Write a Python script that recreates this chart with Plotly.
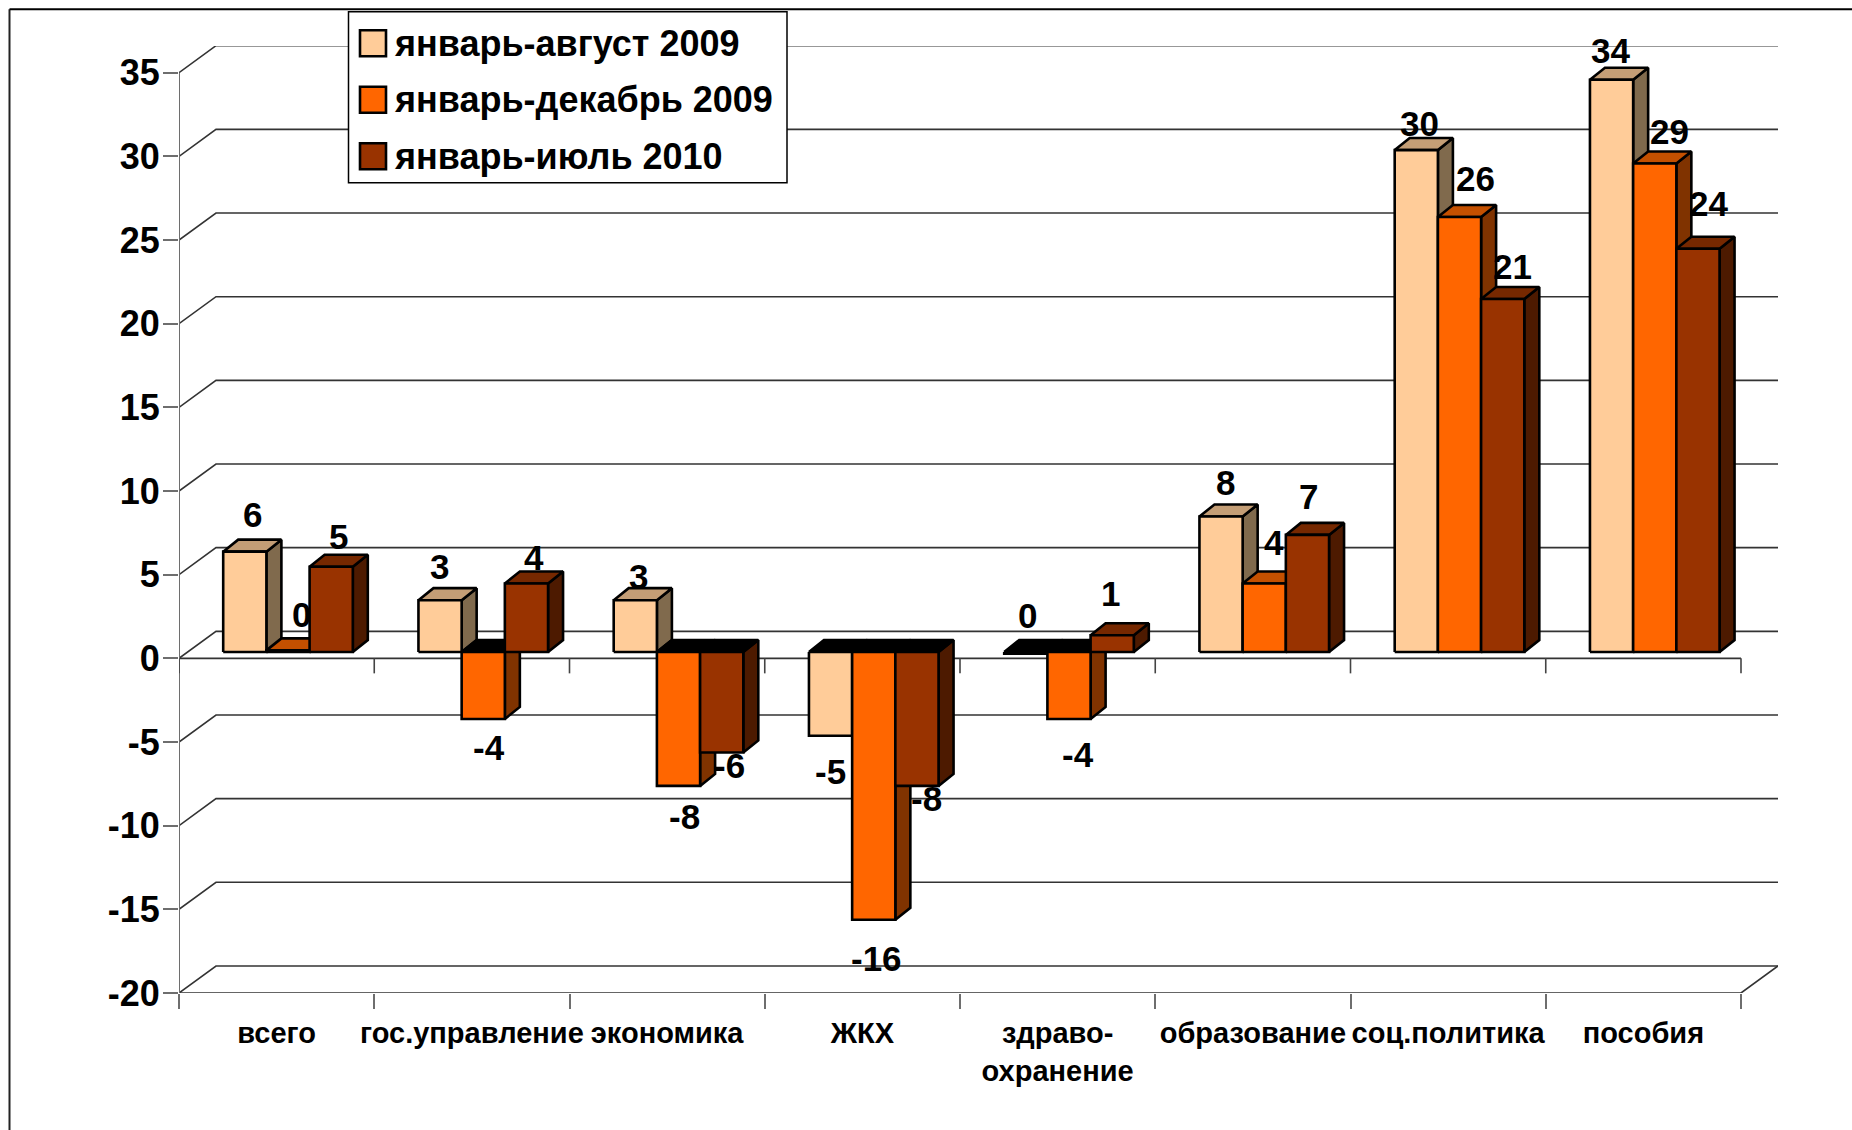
import plotly.graph_objects as go

categories = ["всего", "гос.управление", "экономика", "ЖКХ", "здраво-<br>охранение",
              "образование", "соц.политика", "пособия"]
series_names = ["январь-август 2009", "январь-декабрь 2009", "январь-июль 2010"]
jan_aug_2009 = [6.0, 3.1, 3.1, -5.0, -0.1, 8.1, 30.0, 34.2]
jan_dec_2009 = [0.1, -4.0, -8.0, -16.0, -4.0, 4.1, 26.0, 29.2]
jan_jul_2010 = [5.1, 4.1, -6.0, -8.0, 1.0, 7.0, 21.1, 24.1]
y_ticks = [-20, -15, -10, -5, 0, 5, 10, 15, 20, 25, 30, 35]

# value-label placement relative to the bar end (pixels)
label_dx = [[7.5, -1, 3, 0, 2, 4, 3.6, -0.6],
            [13, 6, 6, 3, 9, 9.5, 16, 15],
            [7, 8, 8, 9.6, -1.6, 1, 10, 11]]
label_dy = [[-36.7, -34, -24, 36, -38, -33.6, -27, -29],
            [-36, 29, 31, 38.5, 36, -41, -39, -32],
            [-30, -26, 13, 13, -42, -38, -32, -45]]

W, H = 1852, 1130
X0, X8, X_END = 179.0, 1741.0, 1778.0
Y_M20, Y_35, Y_TOP = 992.7, 73.0, 46.3
PX_X = (X8 - X0) / 8          # pixels per category
PX_Y = (Y_M20 - Y_35) / 55    # pixels per value unit
WALL_DX, WALL_DY = 37 / PX_X, 27 / PX_Y
BAR_LEFT, BAR_W = 44.2 / PX_X, 43.2 / PX_X
BAR_DX, BAR_DY = 15 / PX_X, 12 / PX_Y
LIFT = 6.3 / PX_Y
X_MAX = (X_END - X0) / PX_X
Y_MAX = -20 + (Y_M20 - Y_TOP) / PX_Y

FONT = "Liberation Sans"
FRONT = ["#FFCC99", "#FF6600", "#993300"]
TOP = ["#C49E76", "#C45000", "#762800"]
SIDE = ["#806A4D", "#803300", "#4D1A00"]
LINE = "#000000"
GRID = "#333333"
AXIS = "#6E6E6E"

fig = go.Figure()


def poly(xs, ys, fill):
    fig.add_trace(go.Scatter(x=xs + xs[:1], y=ys + ys[:1], mode="lines", fill="toself",
                             fillcolor=fill, line=dict(color=LINE, width=2.6),
                             hoverinfo="skip", showlegend=False))


# walls and gridlines
gx, gy = [], []
for t in y_ticks:
    gx += [0, WALL_DX, X_MAX, None]
    gy += [t, t + WALL_DY, t + WALL_DY, None]
gx += [0, 8, X_MAX, None, 0, 8, None]
gy += [-20, -20, -20 + WALL_DY, None, 0, 0, None]
fig.add_trace(go.Scatter(x=gx, y=gy, mode="lines", line=dict(color=GRID, width=1.6),
                         hoverinfo="skip", showlegend=False))
# vertical axis line and tick marks under the zero line
tick_x, tick_y = [0, 0, None], [-20 - 15 / PX_Y, 35, None]
fig.add_trace(go.Scatter(x=tick_x, y=tick_y, mode="lines", line=dict(color=AXIS, width=2),
                         hoverinfo="skip", showlegend=False))
zx, zy = [], []
for i in range(9):
    zx += [i, i, None]
    zy += [0, -15 / PX_Y, None]
fig.add_trace(go.Scatter(x=zx, y=zy, mode="lines", line=dict(color="#444444", width=1.6),
                         hoverinfo="skip", showlegend=False))

series = [jan_aug_2009, jan_dec_2009, jan_jul_2010]
annotations = []
for g in range(len(categories)):
    for s, vals in enumerate(series):
        v = vals[g]
        x0 = g + BAR_LEFT + s * BAR_W
        x1 = x0 + BAR_W
        b = LIFT
        e = v + LIFT
        hi = max(b, e)
        poly([x1, x1 + BAR_DX, x1 + BAR_DX, x1], [b, b + BAR_DY, e + BAR_DY, e], SIDE[s])
        poly([x0, x1, x1 + BAR_DX, x0 + BAR_DX], [hi, hi, hi + BAR_DY, hi + BAR_DY],
             TOP[s] if v >= 0 else "#000000")
        poly([x0, x1, x1, x0], [b, b, e, e], FRONT[s])
        annotations.append(dict(x=(x0 + x1) / 2, y=e, xref="x", yref="y", showarrow=False,
                                text=str(abs(round(v)) if round(v) == 0 else round(v)),
                                xanchor="center", yanchor="middle",
                                xshift=label_dx[s][g], yshift=-label_dy[s][g],
                                font=dict(family=FONT, size=35, color="#000000", weight="bold")))


def px(x):
    return (x - X0) / (X_END - X0)


def py(y):
    return (Y_M20 - y) / (Y_M20 - Y_TOP)


shapes = [
    dict(type="rect", xref="paper", yref="paper", x0=px(348.5), x1=px(787),
         y0=py(183), y1=py(12), line=dict(color="#000000", width=1.5), fillcolor="#FFFFFF"),
    dict(type="line", xref="paper", yref="paper", x0=px(9.5), x1=px(9.5),
         y0=py(1130), y1=py(9.5), line=dict(color="#222222", width=2)),
    dict(type="line", xref="paper", yref="paper", x0=px(9.5), x1=px(1852),
         y0=py(9.5), y1=py(9.5), line=dict(color="#000000", width=2)),
]
legend_y = [43.5, 100, 156.5]
for name, c, ly in zip(series_names, FRONT, legend_y):
    shapes.append(dict(type="rect", xref="paper", yref="paper", x0=px(360), x1=px(386),
                       y0=py(ly + 13), y1=py(ly - 13), line=dict(color="#000000", width=2.6), fillcolor=c))
    annotations.append(dict(x=px(392), y=py(ly), xref="paper", yref="paper", showarrow=False,
                            text=name, xanchor="left", yanchor="middle",
                            font=dict(family=FONT, size=36, color="#000000", weight="bold")))

fig.update_layout(
    width=W, height=H, autosize=False,
    margin=dict(l=X0, r=W - X_END, t=Y_TOP, b=H - Y_M20, pad=0, autoexpand=False),
    paper_bgcolor="#FFFFFF", plot_bgcolor="#FFFFFF",
    showlegend=False, shapes=shapes, annotations=annotations,
    xaxis=dict(range=[0, X_MAX], showgrid=False, zeroline=False, showline=False, automargin=False,
               tickmode="array", tickvals=[i + 0.5 for i in range(len(categories))],
               ticktext=categories, ticks="", ticklabelstandoff=20, tickangle=0,
               tickfont=dict(family=FONT, size=29, color="#000000", weight="bold"),
               minor=dict(tickmode="array", tickvals=list(range(9)), ticks="outside", ticklen=15,
                          tickwidth=2, tickcolor=AXIS, showgrid=False)),
    yaxis=dict(range=[-20, Y_MAX], showgrid=False, zeroline=False, showline=False, automargin=False,
               tickmode="array", tickvals=y_ticks, ticktext=[str(t) for t in y_ticks],
               ticks="outside", ticklen=15, tickwidth=2, tickcolor=AXIS, ticklabelstandoff=-4,
               tickfont=dict(family=FONT, size=36, color="#000000", weight="bold")),
)
fig.write_html("out.html", config={"displayModeBar": False},
               post_script="document.body.style.margin='0';document.body.style.overflow='hidden';")
